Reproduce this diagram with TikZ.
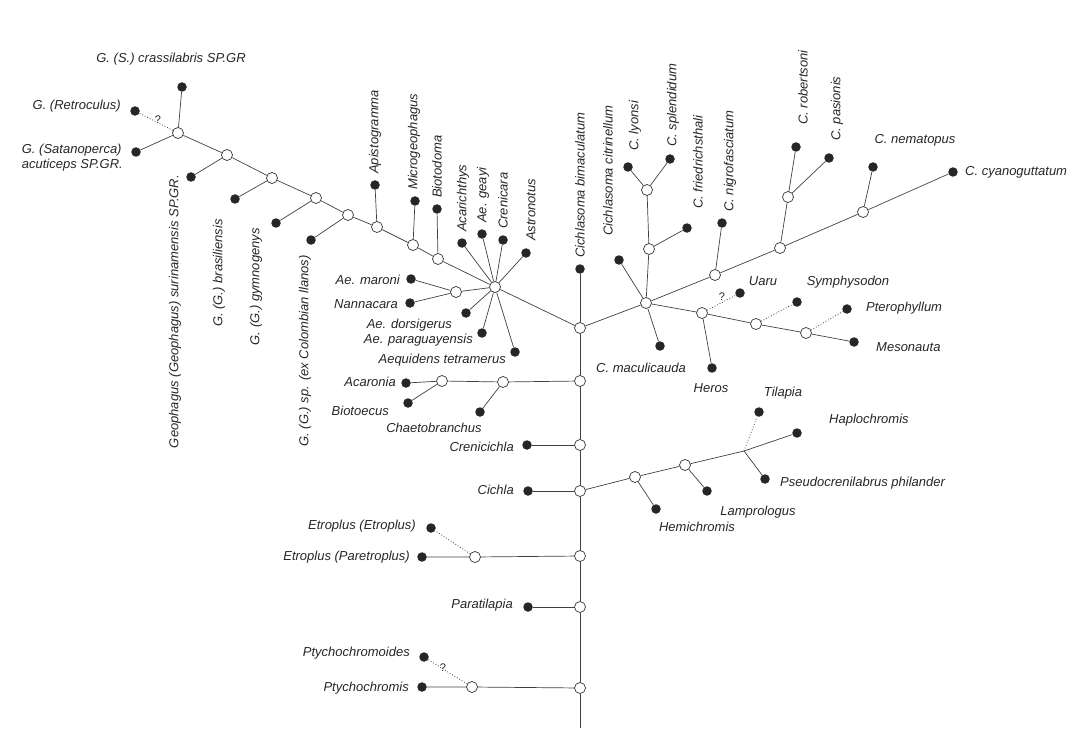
\documentclass[tikz,border=0pt]{standalone}
\usepackage{fontspec}
\setmainfont{Liberation Sans}
\usetikzlibrary{positioning}

\begin{document}
\begin{tikzpicture}[x=1pt,y=-1pt,
    inner/.style={circle,draw=black!80,fill=white,line width=0.7pt,minimum size=11pt,inner sep=0pt},
    tip/.style={circle,fill=black!85,minimum size=9.5pt,inner sep=0pt},
    taxon/.style={font=\itshape\fontsize{13}{15}\selectfont,text=black!85,inner sep=1pt},
    query/.style={font=\fontsize{11}{13}\selectfont,text=black!85,inner sep=0pt},
    branch/.style={black!75,line width=0.7pt},
    unsure/.style={black!75,line width=0.8pt,dotted}]
    \useasboundingbox (0,0) rectangle (1085,733);

    \node[tip] (bimac) at (580,269) {};
    \node[inner] (a1) at (580,328) {};
    \node[inner] (a2) at (580,381) {};
    \node[inner] (a3) at (580,445) {};
    \node[inner] (a4) at (580,491) {};
    \node[inner] (a5) at (580,556) {};
    \node[inner] (a6) at (580,607) {};
    \node[inner] (a7) at (580,688) {};
    \coordinate (root) at (580,728);
    \draw[branch] (bimac) -- (a1) -- (a2) -- (a3) -- (a4) -- (a5) -- (a6) -- (a7) -- (root);
    \node[taxon,rotate=90,anchor=west] (lbimac) at (580,259) {Cichlasoma bimaculatum};

    \node[inner] (hub) at (495,287) {};
    \node[inner] (g8) at (438,259) {};
    \node[inner] (g7) at (413,245) {};
    \node[inner] (g6) at (377,227) {};
    \node[inner] (g5) at (348,215) {};
    \node[inner] (g4) at (316,198) {};
    \node[inner] (g3) at (272,178) {};
    \node[inner] (g2) at (227,155) {};
    \node[inner] (g1) at (178,133) {};
    \draw[branch] (a1) -- (hub) -- (g8) -- (g7) -- (g6) -- (g5) -- (g4) -- (g3) -- (g2) -- (g1);

    \node[tip] (crassi) at (182,87) {};
    \node[tip] (retro) at (135,111) {};
    \node[tip] (satan) at (136,152) {};
    \node[tip] (surin) at (191,177) {};
    \node[tip] (brasil) at (235,199) {};
    \node[tip] (gymno) at (276,223) {};
    \node[tip] (llanos) at (311,240) {};
    \node[tip] (apisto) at (375,185) {};
    \node[tip] (micro) at (415,201) {};
    \node[tip] (bioto) at (437,209) {};
    \draw[branch] (g1) -- (crassi);
    \draw[unsure] (g1) -- (retro);
    \draw[branch] (g1) -- (satan);
    \draw[branch] (g2) -- (surin);
    \draw[branch] (g3) -- (brasil);
    \draw[branch] (g4) -- (gymno);
    \draw[branch] (g5) -- (llanos);
    \draw[branch] (g6) -- (apisto);
    \draw[branch] (g7) -- (micro);
    \draw[branch] (g8) -- (bioto);
    \node[query] (qretro) at (158,120) {?};

    \node[taxon,anchor=south] (lcrassi) at (171,66) {G. (S.) crassilabris SP.GR};
    \node[taxon,anchor=east] (lretro) at (122,106) {G. (Retroculus)};
    \node[taxon,anchor=east,align=left] (lsatan) at (124,158) {G. (Satanoperca)\\acuticeps SP.GR.};
    \node[taxon,rotate=90,anchor=east] (lsurin) at (175,174) {Geophagus (Geophagus) surinamensis SP.GR.};
    \node[taxon,rotate=90,anchor=east] (lbrasil) at (219,218) {G. (G.) brasiliensis};
    \node[taxon,rotate=90,anchor=east] (lgymno) at (256,227) {G. (G.) gymnogenys};
    \node[taxon,rotate=90,anchor=east] (lllanos) at (305,254) {G. (G.) sp. (ex Colombian llanos)};
    \node[taxon,rotate=90,anchor=west] (lapisto) at (375,175) {Apistogramma};
    \node[taxon,rotate=90,anchor=west] (lmicro) at (414,191) {Microgeophagus};
    \node[taxon,rotate=90,anchor=west] (lbioto) at (437,199) {Biotodoma};

    \node[tip] (acari) at (462,243) {};
    \node[tip] (geayi) at (482,234) {};
    \node[tip] (creni) at (503,240) {};
    \node[tip] (astro) at (526,253) {};
    \node[inner] (nann) at (456,292) {};
    \node[tip] (maroni) at (411,279) {};
    \node[tip] (nanna) at (410,303) {};
    \node[tip] (dorsi) at (466,313) {};
    \node[tip] (parag) at (482,333) {};
    \node[tip] (tetra) at (515,352) {};
    \draw[branch] (hub) -- (acari);
    \draw[branch] (hub) -- (geayi);
    \draw[branch] (hub) -- (creni);
    \draw[branch] (hub) -- (astro);
    \draw[branch] (hub) -- (nann);
    \draw[branch] (nann) -- (maroni);
    \draw[branch] (nann) -- (nanna);
    \draw[branch] (hub) -- (dorsi);
    \draw[branch] (hub) -- (parag);
    \draw[branch] (hub) -- (tetra);

    \node[taxon,rotate=90,anchor=west] (lacari) at (463,233) {Acarichthys};
    \node[taxon,rotate=90,anchor=west] (lgeayi) at (483,224) {Ae. geayi};
    \node[taxon,rotate=90,anchor=west] (lcreni) at (503,230) {Crenicara};
    \node[taxon,rotate=90,anchor=west] (lastro) at (531,242) {Astronotus};
    \node[taxon,anchor=east] (lmaroni) at (401,280) {Ae. maroni};
    \node[taxon,anchor=east] (lnanna) at (399,304) {Nannacara};
    \node[taxon,anchor=east] (ldorsi) at (453,325) {Ae. dorsigerus};
    \node[taxon,anchor=east] (lparag) at (474,340) {Ae. paraguayensis};
    \node[taxon,anchor=east] (ltetra) at (507,360) {Aequidens tetramerus};

    \node[inner] (ch2) at (503,382) {};
    \node[inner] (ch1) at (442,381) {};
    \node[tip] (chaeto) at (480,412) {};
    \node[tip] (acaro) at (406,383) {};
    \node[tip] (bioec) at (408,403) {};
    \draw[branch] (a2) -- (ch2) -- (ch1) -- (acaro);
    \draw[branch] (ch2) -- (chaeto);
    \draw[branch] (ch1) -- (bioec);
    \node[taxon,anchor=east] (lacaro) at (397,382) {Acaronia};
    \node[taxon,anchor=east] (lbioec) at (390,411) {Biotoecus};
    \node[taxon] (lchaeto) at (434,428) {Chaetobranchus};

    \node[tip] (crenic) at (527,445) {};
    \draw[branch] (a3) -- (crenic);
    \node[taxon,anchor=east] (lcrenic) at (515,447) {Crenicichla};

    \node[tip] (cichla) at (528,491) {};
    \draw[branch] (a4) -- (cichla);
    \node[taxon,anchor=east] (lcichla) at (515,490) {Cichla};

    \node[inner] (k1) at (635,477) {};
    \node[inner] (k2) at (685,465) {};
    \coordinate (k3) at (744,451);
    \node[tip] (hemi) at (656,509) {};
    \node[tip] (lampro) at (707,491) {};
    \node[tip] (tilap) at (759,412) {};
    \node[tip] (haplo) at (797,433) {};
    \node[tip] (pseudo) at (765,479) {};
    \draw[branch] (a4) -- (k1) -- (k2) -- (k3);
    \draw[branch] (k1) -- (hemi);
    \draw[branch] (k2) -- (lampro);
    \draw[unsure] (k3) -- (tilap);
    \draw[branch] (k3) -- (haplo);
    \draw[branch] (k3) -- (pseudo);
    \node[taxon] (ltilap) at (783,393) {Tilapia};
    \node[taxon,anchor=west] (lhaplo) at (828,420) {Haplochromis};
    \node[taxon,anchor=west] (lpseudo) at (779,483) {Pseudocrenilabrus philander};
    \node[taxon] (llampro) at (758,512) {Lamprologus};
    \node[taxon] (lhemi) at (697,527) {Hemichromis};

    \node[inner] (et) at (475,557) {};
    \node[tip] (etro) at (431,528) {};
    \node[tip] (paretro) at (422,557) {};
    \draw[branch] (a5) -- (et) -- (paretro);
    \draw[unsure] (et) -- (etro);
    \node[taxon,anchor=east] (letro) at (417,526) {Etroplus (Etroplus)};
    \node[taxon,anchor=east] (lparetro) at (411,557) {Etroplus (Paretroplus)};

    \node[tip] (parati) at (528,607) {};
    \draw[branch] (a6) -- (parati);
    \node[taxon,anchor=east] (lparati) at (514,605) {Paratilapia};

    \node[inner] (pt) at (472,687) {};
    \node[tip] (ptyoid) at (424,657) {};
    \node[tip] (ptycho) at (422,687) {};
    \draw[branch] (a7) -- (pt) -- (ptycho);
    \draw[unsure] (pt) -- (ptyoid);
    \node[query] (qptyoid) at (443,668) {?};
    \node[taxon,anchor=east] (lptyoid) at (411,653) {Ptychochromoides};
    \node[taxon,anchor=east] (lptycho) at (410,688) {Ptychochromis};

    \node[inner] (b) at (646,303) {};
    \node[inner] (c1) at (649,249) {};
    \node[inner] (c2) at (647,190) {};
    \node[tip] (lyonsi) at (628,167) {};
    \node[tip] (splend) at (670,159) {};
    \node[tip] (fried) at (687,228) {};
    \node[tip] (citrin) at (619,260) {};
    \node[tip] (macul) at (660,346) {};
    \draw[branch] (a1) -- (b) -- (c1) -- (c2);
    \draw[branch] (c2) -- (lyonsi);
    \draw[branch] (c2) -- (splend);
    \draw[branch] (c1) -- (fried);
    \draw[branch] (b) -- (citrin);
    \draw[branch] (b) -- (macul);
    \node[taxon,rotate=90,anchor=west] (lcitrin) at (608,237) {Cichlasoma citrinellum};
    \node[taxon,rotate=90,anchor=west] (llyonsi) at (635,152) {C. lyonsi};
    \node[taxon,rotate=90,anchor=west] (lsplend) at (673,148) {C. splendidum};
    \node[taxon,rotate=90,anchor=west] (lfried) at (698,210) {C. friedrichsthali};
    \node[taxon] (lmacul) at (641,368) {C. maculicauda};

    \node[inner] (d1) at (715,275) {};
    \node[inner] (d2) at (780,248) {};
    \node[inner] (d3) at (788,197) {};
    \node[inner] (d4) at (863,212) {};
    \node[tip] (nigro) at (722,223) {};
    \node[tip] (robert) at (796,147) {};
    \node[tip] (pasio) at (829,158) {};
    \node[tip] (nemat) at (873,167) {};
    \node[tip] (cyano) at (953,172) {};
    \draw[branch] (b) -- (d1) -- (d2) -- (d4) -- (cyano);
    \draw[branch] (d1) -- (nigro);
    \draw[branch] (d2) -- (d3);
    \draw[branch] (d3) -- (robert);
    \draw[branch] (d3) -- (pasio);
    \draw[branch] (d4) -- (nemat);
    \node[taxon,rotate=90,anchor=west] (lnigro) at (730,213) {C. nigrofasciatum};
    \node[taxon,rotate=90,anchor=west] (lrobert) at (803,126) {C. robertsoni};
    \node[taxon,rotate=90,anchor=west] (lpasio) at (837,142) {C. pasionis};
    \node[taxon] (lnemat) at (915,140) {C. nematopus};
    \node[taxon,anchor=west] (lcyano) at (964,172) {C. cyanoguttatum};

    \node[inner] (e1) at (702,313) {};
    \node[inner] (e2) at (756,324) {};
    \node[inner] (e3) at (806,333) {};
    \node[tip] (uaru) at (740,293) {};
    \node[tip] (heros) at (712,368) {};
    \node[tip] (symph) at (797,302) {};
    \node[tip] (ptero) at (847,309) {};
    \node[tip] (mesona) at (854,342) {};
    \draw[branch] (b) -- (e1) -- (e2) -- (e3) -- (mesona);
    \draw[unsure] (e1) -- (uaru);
    \draw[branch] (e1) -- (heros);
    \draw[unsure] (e2) -- (symph);
    \draw[unsure] (e3) -- (ptero);
    \node[query] (quaru) at (722,297) {?};
    \node[taxon] (luaru) at (763,281) {Uaru};
    \node[taxon] (lheros) at (711,388) {Heros};
    \node[taxon] (lsymph) at (848,282) {Symphysodon};
    \node[taxon,anchor=west] (lptero) at (865,308) {Pterophyllum};
    \node[taxon,anchor=west] (lmesona) at (875,347) {Mesonauta};
\end{tikzpicture}
\end{document}
